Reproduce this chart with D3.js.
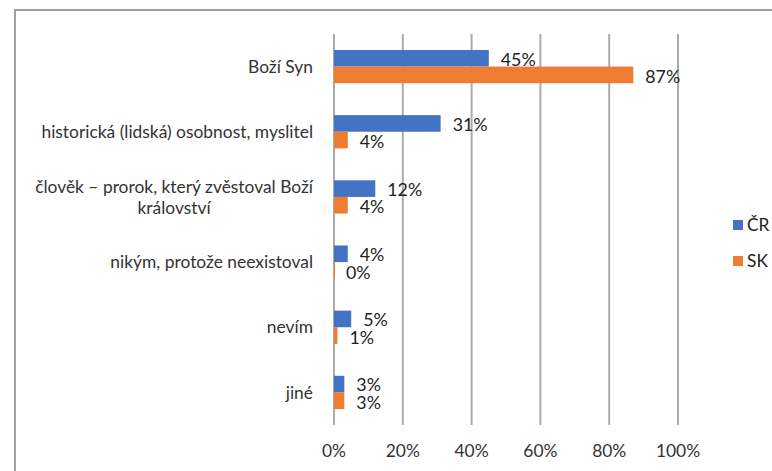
<!DOCTYPE html>
<html><head><meta charset="utf-8">
<script src="https://cdn.jsdelivr.net/npm/d3@7"></script>
<style>
html,body{margin:0;padding:0;background:#fff;}
svg{display:block;font-family:Lato,"Open Sans",sans-serif;}
</style></head>
<body>
<svg id="chart" width="772" height="471"></svg>
<script>
const categories = ["Boží Syn","historická (lidská) osobnost, myslitel","člověk – prorok, který zvěstoval Boží království","nikým, protože neexistoval","nevím","jiné"];
const seriesNames = ["ČR","SK"];
const valuesCR = [45,31,12,4,5,3];
const valuesSK = [87,4,4,0,1,3];
const tickValues = [0,20,40,60,80,100];
const colors = ["#4472C4","#ED7D31"];

const svg = d3.select("#chart");
const fsCat = 17.4, fsVal = 17.8, fsTick = 17.4;

// frame
svg.append("path").attr("d","M15,471 L15,10 L772,10").attr("fill","none").attr("stroke","#a0a0a0").attr("stroke-width",2);

const x = d3.scaleLinear().domain([0,100]).range([334,678]);
const y = d3.scaleBand().domain(categories).range([34,425]).paddingInner(0.49).paddingOuter(0.245);
const ySub = d3.scaleBand().domain(seriesNames).range([0,y.bandwidth()]);

// gridlines
svg.append("g").selectAll("line").data(tickValues).join("line")
  .attr("x1",d=>x(d)).attr("x2",d=>x(d)).attr("y1",34).attr("y2",425)
  .attr("stroke","#ababab").attr("stroke-width",2);

// tick labels
svg.append("g").selectAll("text").data(tickValues).join("text")
  .attr("x",d=>x(d)).attr("y",451).attr("dy","0.35em").attr("text-anchor","middle")
  .attr("font-size",fsTick).attr("fill","#333").text(d=>d+"%");

const data = [valuesCR, valuesSK];
seriesNames.forEach((s,i)=>{
  const g = svg.append("g");
  g.selectAll("rect").data(categories).join("rect")
    .attr("x",x(0)).attr("y",(c)=>y(c)+ySub(s))
    .attr("width",(c,j)=>Math.max(x(data[i][j])-x(0),1))
    .attr("height",ySub.bandwidth())
    .attr("fill",colors[i]);
  g.selectAll("text").data(categories).join("text")
    .attr("x",(c,j)=>x(data[i][j])+12)
    .attr("y",(c)=>y(c)+ySub(s)+ySub.bandwidth()/2+(i===0?1:2))
    .attr("dy","0.35em").attr("font-size",fsVal).attr("fill","#222")
    .text((c,j)=>data[i][j]+"%");
});

// category labels with wrap
const labelRight = 313, maxW = 310;
const lg = svg.append("g");
categories.forEach(c=>{
  const t = lg.append("text").attr("font-size",fsCat).attr("fill","#333");
  const words = c.split(" ");
  let lines = [], cur = [];
  const meas = lg.append("text").attr("font-size",fsCat);
  words.forEach(w=>{
    const test = cur.concat([w]).join(" ");
    meas.text(test);
    if (meas.node().getComputedTextLength() > maxW && cur.length) { lines.push(cur.join(" ")); cur=[w]; }
    else cur.push(w);
  });
  lines.push(cur.join(" "));
  let mw = 0;
  lines.forEach(l=>{ meas.text(l); mw=Math.max(mw, meas.node().getComputedTextLength()); });
  meas.remove();
  const cx = labelRight - mw/2;
  const cy = y(c) + y.bandwidth()/2;
  const lh = 21;
  lines.forEach((l,k)=>{
    t.append("tspan").attr("x",cx).attr("y",cy + (k-(lines.length-1)/2)*lh).attr("dy","0.35em")
      .attr("text-anchor","middle").text(l);
  });
});

// legend
const legY = [225, 261];
seriesNames.forEach((s,i)=>{
  svg.append("rect").attr("x",733).attr("y",legY[i]-5).attr("width",10).attr("height",10).attr("fill",colors[i]);
  svg.append("text").attr("x",747).attr("y",legY[i]).attr("dy","0.35em").attr("font-size",fsCat).attr("fill","#222").text(s);
});
</script>
</body></html>
